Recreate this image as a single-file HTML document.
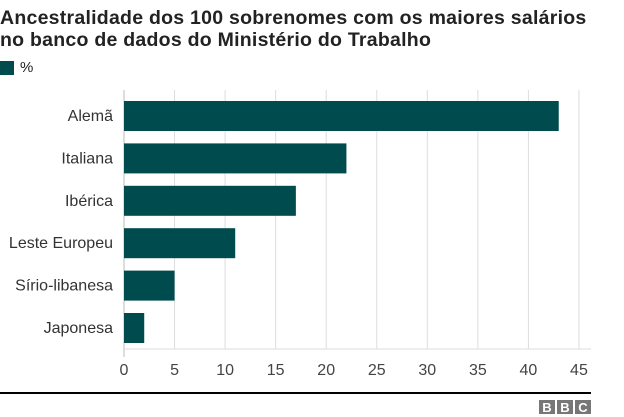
<!DOCTYPE html>
<html><head><meta charset="utf-8"><style>
body{margin:0;background:#fff;font-family:"Liberation Sans",Arial,sans-serif;}
#wrap{position:relative;width:624px;height:417px;overflow:hidden;}
.t{position:absolute;left:0;font-weight:bold;font-size:19.5px;letter-spacing:0.25px;color:#222;line-height:22px;white-space:nowrap;}
</style></head><body>
<div id="wrap">
<div class="t" style="top:7px">Ancestralidade dos 100 sobrenomes com os maiores salários<br>no banco de dados do Ministério do Trabalho</div>
<div style="position:absolute;left:0;top:61px;width:14px;height:14px;background:#004b4d"></div>
<div style="position:absolute;left:20px;top:59px;font-size:15px;color:#222">%</div>
<svg id="c" width="624" height="417" style="position:absolute;left:0;top:0"></svg>
</div>
<script>
const categories=["Alemã","Italiana","Ibérica","Leste Europeu","Sírio-libanesa","Japonesa"];
const values=[43,22,17,11,5,2];
const ticks=[0,5,10,15,20,25,30,35,40,45];
const NS="http://www.w3.org/2000/svg";
const svg=document.getElementById('c');
const x0=124,pxPer=10.11,y0=101,step=42.4,bh=30;
const X=v=>x0+v*pxPer;
function mk(t,a){const e=document.createElementNS(NS,t);for(const k in a)e.setAttribute(k,a[k]);svg.appendChild(e);return e;}
ticks.forEach(t=>{
 const g=mk('line',{x1:X(t),x2:X(t),y1:90,y2:t===0?357:349,stroke:t===0?'#bbb':'#ddd','stroke-width':1});
 
 
 const l=mk('text',{x:X(t),y:375,'text-anchor':'middle','font-size':16,fill:'#444','font-family':'Liberation Sans, Arial, sans-serif'});
 l.textContent=t;
 
 
});
const ax=mk('line',{x1:124,x2:591,y1:349,y2:349,stroke:'#ddd','stroke-width':1});


categories.forEach((c,i)=>{
 const y=y0+i*step;
 const r=mk('rect',{x:x0,y:y,width:X(values[i])-x0,height:bh,fill:'#004b4d'});
 
 
 const t=mk('text',{x:113,y:y+bh/2+5,'text-anchor':'end','font-size':16,fill:'#333','font-family':'Liberation Sans, Arial, sans-serif'});
 t.textContent=c;
 
 
});
const bl=mk('rect',{x:0,y:392,width:591,height:2,fill:'#000'});


["B","B","C"].forEach((ch,i)=>{
 const b=mk('rect',{x:539+i*18,y:400,width:16,height:14,fill:'#777'});
 
 
 const t=mk('text',{x:547+i*18,y:412,'text-anchor':'middle','font-size':13,'font-weight':'bold',fill:'#fff','font-family':'Liberation Sans, Arial, sans-serif'});
 t.textContent=ch;
 
 
});
</script>
</body></html>
